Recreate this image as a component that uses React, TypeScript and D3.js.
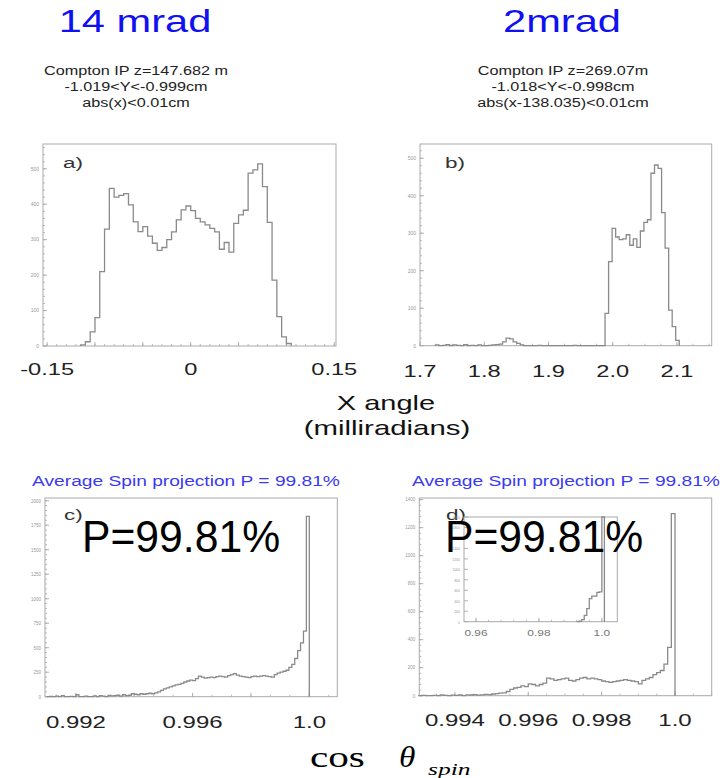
import React from 'react';
import * as d3 from 'd3';

// ---------- data ----------
const aStart = -0.115;
const aWidth = 0.005;
const aValues = [3, 12, 40, 80, 210, 330, 445, 420, 425, 430, 398, 350, 323, 337, 310, 290, 270, 278, 300, 322, 356, 384, 395, 382, 360, 350, 342, 332, 322, 273, 292, 265, 346, 370, 383, 488, 497, 514, 450, 349, 186, 83, 26, 7];

const bStart = 1.724;
const bWidth = 0.0055;
const bValues = [2, 0, 1, 3, 0, 2, 1, 0, 3, 0, 1, 0, 2, 0, 0, 1, 2, 3,
  4, 10, 20, 18, 10, 6, 2,
  0, 0, 0, 0, 1, 0, 0, 0, 0, 0, 0, 0, 0, 0, 1, 0, 0, 0, 0, 0, 0, 0, 0,
  86, 224, 313, 290, 283, 285, 296, 268, 285, 262, 306, 329, 336, 460, 482, 473, 355, 260, 95, 51, 14];

const cStart = 0.991;
const cWidth = 0.0001;
const cValues = [0, 2, 0, 5, 0, 10, 0, 0, 3, 0, 20, 0, 0, 5, 0, 0, 8, 0, 10, 5, 0, 12, 8, 10, 15, 5, 20, 10, 15, 30,
  25, 20, 30, 25, 30, 35, 30, 40,
  50, 65, 80, 90, 100, 110, 120, 125, 135, 150, 160, 170, 165, 185, 210, 200, 190, 195, 200, 195,
  205, 210, 205, 200, 215, 225, 235, 220, 210, 205, 200, 195, 205, 210, 205, 210, 215, 210, 205, 200,
  225, 240, 250, 260, 270, 300, 330, 390, 470, 550, 670, 1840];

const dStart = 0.993;
const dWidth = 0.0001;
const dValues = [0, 2, 0, 0, 3, 0, 5, 2, 0, 4, 3, 5, 0, 6, 5, 8, 4, 6, 10, 8,
  12, 15, 18, 20, 30, 45, 55, 60, 70, 65, 85, 80, 70, 80, 90, 125, 120, 110, 115, 120,
  125, 110, 105, 115, 125, 130, 120, 125, 120, 115, 105, 100, 95, 100, 105, 110, 115, 110, 105, 100,
  85, 110, 120, 130, 150, 165, 180, 225, 345, 1300];

const insetStart = 0.992;
const insetWidth = 0.0008;
const insetValues = [0, 10, 40, 120, 250, 440, 490, 490, 560, 570, 2000];

const aTickLabels = ['-0.15', '0', '0.15'];
const aTickValues = [-0.15, 0, 0.15];
const bTickLabels = ['1.7', '1.8', '1.9', '2.0', '2.1'];
const bTickValues = [1.7, 1.8, 1.9, 2.0, 2.1];
const cTickLabels = ['0.992', '0.996', '1.0'];
const cTickValues = [0.992, 0.996, 1.0];
const dTickLabels = ['0.994', '0.996', '0.998', '1.0'];
const dTickValues = [0.994, 0.996, 0.998, 1.0];
const insetTickLabels = ['0.96', '0.98', '1.0'];
const insetTickValues = [0.96, 0.98, 1.0];

const titles = ['14 mrad', '2mrad'];
const leftInfo = ['Compton IP z=147.682 m', '-1.019<Y<-0.999cm', 'abs(x)<0.01cm'];
const rightInfo = ['Compton IP z=269.07m', '-1.018<Y<-0.998cm', 'abs(x-138.035)<0.01cm'];
const spinText = 'Average Spin projection P = 99.81%';
const bigP = 'P=99.81%';

// ---------- helpers ----------
const SANS = 'Liberation Sans, Arial, sans-serif';
const SERIF = 'Liberation Serif, Times New Roman, serif';
const FRAME = '#a9a9a9';
const LINE = '#8a8a8a';

function SText({ x, y, size, sx = 1, anchor = 'middle', fill = '#000', family = SANS, style = 'normal', children }: any) {
  return (
    <text transform={`translate(${x},${y}) scale(${sx},1)`} textAnchor={anchor} fontSize={size}
      fontFamily={family} fontStyle={style} fill={fill}>{children}</text>
  );
}

function histPath(x: any, y: any, start: number, width: number, values: number[]) {
  const pts: [number, number][] = [[start, 0]];
  values.forEach((v, i) => pts.push([start + i * width, v]));
  pts.push([start + values.length * width, 0]);
  const line = d3.line<[number, number]>().x(d => x(d[0])).y(d => y(Math.min(d[1], y.domain()[1]))).curve(d3.curveStepAfter);
  return line(pts) || '';
}

function Panel({ x, y, start, width, values, xMinor, xMajor, yMinor, yMajor, yLabelFmt, labelSize = 5 }: any) {
  const [x0, x1] = x.range();
  const [y0, y1] = y.range();
  return (
    <g>
      <rect x={x0} y={y1} width={x1 - x0} height={y0 - y1} fill="#fff" stroke={FRAME} strokeWidth={1} />
      {yMinor.map((t: number, i: number) => (
        <line key={'ym' + i} x1={x0} x2={x0 + 2} y1={y(t)} y2={y(t)} stroke={FRAME} strokeWidth={0.8} />
      ))}
      {yMajor.map((t: number, i: number) => (
        <g key={'yM' + i}>
          <line x1={x0} x2={x0 + 4} y1={y(t)} y2={y(t)} stroke={FRAME} strokeWidth={0.9} />
          <text x={x0 - 4} y={y(t) + 1.8} textAnchor="end" fontSize={labelSize} fontFamily={SANS} fill="#999">{yLabelFmt(t)}</text>
        </g>
      ))}
      {xMinor.map((t: number, i: number) => (
        <line key={'xm' + i} x1={x(t)} x2={x(t)} y1={y0} y2={y0 - 2} stroke={FRAME} strokeWidth={0.8} />
      ))}
      {xMajor.map((t: number, i: number) => (
        <line key={'xM' + i} x1={x(t)} x2={x(t)} y1={y0} y2={y0 - 4} stroke={FRAME} strokeWidth={0.9} />
      ))}
      <path d={histPath(x, y, start, width, values)} fill="none" stroke={LINE} strokeWidth={1.3} />
    </g>
  );
}

const inDom = (s: any) => (t: number) => t >= s.domain()[0] - 1e-9 && t <= s.domain()[1] + 1e-9;

export default function App() {
  // panel a
  const xa = d3.scaleLinear().domain([-0.1543, 0.1518]).range([43, 336]);
  const ya = d3.scaleLinear().domain([0, 570]).range([346, 144]);
  // panel b
  const xb = d3.scaleLinear().domain([1.7, 2.154]).range([420, 711.7]);
  const yb = d3.scaleLinear().domain([0, 538]).range([345.7, 144]);
  // panel c
  const xc = d3.scaleLinear().domain([0.99094, 1.00096]).range([45, 337.3]);
  const yc = d3.scaleLinear().domain([0, 2028]).range([696.7, 498]);
  // panel d
  const xd = d3.scaleLinear().domain([0.99303, 1.0010]).range([419.3, 711.7]);
  const yd = d3.scaleLinear().domain([0, 1412]).range([695.7, 498]);
  // inset
  const xi = d3.scaleLinear().domain([0.9562, 1.0049]).range([464, 617.3]);
  const yi = d3.scaleLinear().domain([0, 2000]).range([621.7, 517]);

  const fmtInt = (t: number) => String(Math.round(t));

  const aXMinor = d3.range(-15, 16).map(k => k * 0.01).filter(inDom(xa));
  const aXMajor = d3.range(-3, 4).map(k => k * 0.05).filter(inDom(xa));
  const bXMinor = d3.range(0, 19).map(k => 1.7 + k * 0.025).filter(inDom(xb));
  const bXMajor = d3.range(0, 5).map(k => 1.7 + k * 0.1).filter(inDom(xb));
  const cXMinor = d3.range(-2, 14).map(k => 0.992 + k * 0.002 / 3).filter(inDom(xc));
  const cXMajor = d3.range(0, 5).map(k => 0.992 + k * 0.002).filter(inDom(xc));
  const dXMinor = d3.range(-2, 16).map(k => 0.994 + k * 0.0005).filter(inDom(xd));
  const dXMajor = d3.range(0, 4).map(k => 0.994 + k * 0.002).filter(inDom(xd));

  return (
    <svg width={728} height={778} style={{ position: 'absolute', left: 0, top: 0, background: '#fff' }}>
      <rect x={0} y={0} width={728} height={778} fill="#fff" />

      {/* titles */}
      <SText x={135} y={32} size={32} sx={1.3} fill="#1010f0">{titles[0]}</SText>
      <SText x={562} y={32} size={32} sx={1.3} fill="#1010f0">{titles[1]}</SText>
      {leftInfo.map((t, i) => (
        <SText key={'l' + i} x={136} y={75 + i * 16} size={13.5} sx={1.2} fill="#222">{t}</SText>
      ))}
      {rightInfo.map((t, i) => (
        <SText key={'r' + i} x={563} y={75 + i * 16} size={13.5} sx={1.2} fill="#222">{t}</SText>
      ))}

      {/* panel a */}
      <Panel x={xa} y={ya} start={aStart} width={aWidth} values={aValues}
        xMinor={aXMinor} xMajor={aXMajor}
        yMinor={d3.range(0, 571, 20)} yMajor={d3.range(0, 501, 100)} yLabelFmt={fmtInt} />
      <SText x={63} y={168} size={15} sx={1.5} anchor="start" fill="#333">a)</SText>
      {aTickValues.map((v, i) => (
        <SText key={'at' + i} x={xa(v)} y={375} size={17} sx={1.39} fill="#222">{aTickLabels[i]}</SText>
      ))}

      {/* panel b */}
      <Panel x={xb} y={yb} start={bStart} width={bWidth} values={bValues}
        xMinor={bXMinor} xMajor={bXMajor}
        yMinor={d3.range(0, 531, 20)} yMajor={d3.range(0, 501, 100)} yLabelFmt={fmtInt} />
      <SText x={445} y={168} size={15} sx={1.5} anchor="start" fill="#333">b)</SText>
      {bTickValues.map((v, i) => (
        <SText key={'bt' + i} x={xb(v)} y={376.5} size={17} sx={1.39} fill="#222">{bTickLabels[i]}</SText>
      ))}

      <SText x={386} y={410} size={21} sx={1.38} fill="#111">X angle</SText>
      <SText x={387} y={435} size={21} sx={1.4} fill="#111">(milliradians)</SText>

      {/* blue headers */}
      <SText x={186} y={486} size={14} sx={1.37} fill="#3a3af0">{spinText}</SText>
      <SText x={566} y={486} size={14} sx={1.37} fill="#3a3af0">{spinText}</SText>

      {/* panel c */}
      <Panel x={xc} y={yc} start={cStart} width={cWidth} values={cValues}
        xMinor={cXMinor} xMajor={cXMajor}
        yMinor={d3.range(0, 2001, 50)} yMajor={d3.range(0, 2001, 250)} yLabelFmt={fmtInt} labelSize={4.5} />
      <SText x={64} y={520} size={15} sx={1.5} anchor="start" fill="#333">c)</SText>
      {cTickValues.map((v, i) => (
        <SText key={'ct' + i} x={xc(v)} y={728} size={16} sx={1.5} fill="#222">{cTickLabels[i]}</SText>
      ))}

      {/* panel d */}
      <Panel x={xd} y={yd} start={dStart} width={dWidth} values={dValues}
        xMinor={dXMinor} xMajor={dXMajor}
        yMinor={d3.range(0, 1401, 40)} yMajor={d3.range(0, 1401, 200)} yLabelFmt={fmtInt} labelSize={4.5} />
      <SText x={446} y={520} size={15} sx={1.5} anchor="start" fill="#333">d)</SText>
      {dTickValues.map((v, i) => (
        <SText key={'dt' + i} x={xd(v)} y={726} size={16} sx={1.5} fill="#222">{dTickLabels[i]}</SText>
      ))}

      {/* inset */}
      <Panel x={xi} y={yi} start={insetStart} width={insetWidth} values={insetValues}
        xMinor={d3.range(0, 11).map(k => 0.96 + k * 0.004)} xMajor={insetTickValues}
        yMinor={[]} yMajor={d3.range(0, 2001, 200)} yLabelFmt={fmtInt} labelSize={3.5} />
      {insetTickValues.map((v, i) => (
        <SText key={'it' + i} x={xi(v)} y={636} size={8.5} sx={1.4} fill="#777">{insetTickLabels[i]}</SText>
      ))}

      {/* big P labels */}
      <SText x={82} y={552} size={44} sx={0.97} anchor="start" fill="#000">{bigP}</SText>
      <SText x={445} y={552} size={44} sx={0.97} anchor="start" fill="#000">{bigP}</SText>

      {/* cos theta spin */}
      <SText x={310} y={767} size={29} sx={1.42} anchor="start" fill="#000" family={SERIF}>cos</SText>
      <SText x={399} y={767} size={29} sx={1.15} anchor="start" fill="#000" family={SERIF} style="italic">θ</SText>
      <SText x={428} y={775} size={17} sx={1.5} anchor="start" fill="#000" family={SERIF} style="italic">spin</SText>
    </svg>
  );
}
